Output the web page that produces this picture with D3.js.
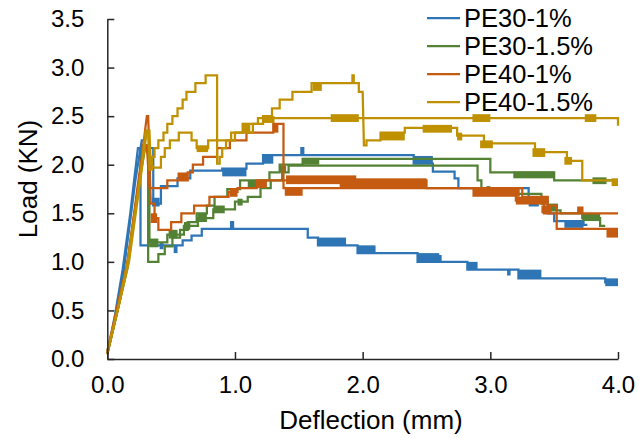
<!DOCTYPE html>
<html>
<head>
<meta charset="utf-8">
<script src="https://cdn.jsdelivr.net/npm/d3@7"></script>
<style>
  body { margin: 0; background: #fff; }
  text { font-family: "Liberation Sans", Arial, sans-serif; fill: #000; }
</style>
</head>
<body>
<svg id="chart" width="639" height="438"></svg>
<script>
// ---- data: load (kN) vs deflection (mm), two specimens per mix ----
const seriesNames  = ["PE30-1%", "PE30-1.5%", "PE40-1%", "PE40-1.5%"];
const seriesColors = ["#2E75B6", "#548235", "#C55A11", "#BF9000"];

const xTickValues = [0, 1, 2, 3, 4];
const yTickValues = [0, 0.5, 1.0, 1.5, 2.0, 2.5, 3.0, 3.5];

// PE30-1%
const pe30_1_a = [[0,0.05],[0.06,0.45],[0.12,0.92],[0.18,1.5],[0.21,1.84],[0.24,2.17],[0.26,2.17],[0.26,1.17],
  [0.59,1.17],[0.59,1.22],[0.66,1.22],[0.66,1.27],[0.74,1.27],[0.74,1.34],[0.97,1.34],[0.97,1.41],[0.985,1.41],[0.985,1.34],
  [1.57,1.34],[1.57,1.25],[1.65,1.25],[1.65,1.17],[1.96,1.17],[1.96,1.09],[2.08,1.09],[2.08,1.15],[2.09,1.15],[2.09,1.09],
  [2.43,1.09],[2.43,1.0],[2.6,1.0],[2.6,1.06],[2.61,1.06],[2.61,1.0],[2.82,1.0],[2.82,0.92],[3.14,0.92],[3.14,0.87],
  [3.15,0.87],[3.15,0.92],[3.22,0.92],[3.22,0.83],[3.9,0.83],[3.9,0.79],[4.0,0.79]];
const pe30_1_b = [[0,0.08],[0.07,0.45],[0.13,0.92],[0.22,1.84],[0.27,2.25],[0.29,2.25],[0.3,2.17],[0.36,2.17],[0.36,1.6],
  [0.42,1.6],[0.42,1.78],[0.55,1.78],[0.55,1.86],[0.65,1.86],[0.65,1.94],[0.9,1.94],[0.9,1.96],[1.09,1.96],[1.09,2.01],
  [1.22,2.01],[1.22,2.1],[1.52,2.1],[1.52,2.17],[1.535,2.17],[1.535,2.1],[2.4,2.1],[2.4,2.01],[2.55,2.01],[2.55,1.93],
  [2.72,1.93],[2.72,1.86],[2.75,1.86],[2.75,1.76],[3.3,1.76],[3.3,1.62],[3.45,1.62],[3.45,1.5],[3.5,1.5],[3.5,1.42],
  [3.73,1.42],[3.73,1.38],[3.76,1.38]];
const pe30_1_noise = [[0.41,0.44,1.13,1.2],[0.52,0.55,1.09,1.17],[1.65,1.87,1.17,1.25],[1.96,2.1,1.09,1.17],
  [2.43,2.6,1.0,1.09],[2.82,2.9,0.92,1.0],[3.22,3.4,0.83,0.92],[3.9,4.0,0.75,0.83],
  [0.35,0.41,1.57,1.66],[0.9,1.09,1.88,1.96],[1.22,1.3,2.01,2.09],[2.4,2.55,2.01,2.09],[3.3,3.38,1.57,1.65],[3.58,3.73,1.35,1.43]];

// PE30-1.5%
const pe30_15_a = [[0,0.05],[0.08,0.5],[0.15,0.92],[0.25,1.84],[0.28,2.2],[0.3,2.2],[0.32,2.1],[0.32,1.0],
  [0.4,1.0],[0.4,1.08],[0.45,1.08],[0.45,1.16],[0.51,1.16],[0.51,1.25],[0.57,1.25],[0.57,1.33],[0.63,1.33],[0.63,1.41],
  [0.7,1.41],[0.7,1.5],[0.78,1.5],[0.78,1.58],[0.84,1.58],[0.84,1.67],[0.94,1.67],[0.94,1.75],[1.04,1.75],[1.04,1.84],
  [1.27,1.84],[1.27,1.92],[1.35,1.92],[1.35,2.0],[1.53,2.0],[1.53,2.06],[3.0,2.06],[3.0,1.92],[3.5,1.92],[3.5,1.84],[4.0,1.84]];
const pe30_15_b = [[0,0.06],[0.09,0.55],[0.16,0.95],[0.26,1.9],[0.3,2.2],[0.31,2.2],[0.33,2.05],[0.33,1.2],
  [0.47,1.2],[0.47,1.28],[0.6,1.28],[0.6,1.37],[0.71,1.37],[0.71,1.45],[0.83,1.45],[0.83,1.54],[1.0,1.54],[1.0,1.62],
  [1.1,1.62],[1.1,1.67],[1.2,1.67],[1.2,1.76],[1.28,1.76],[1.28,1.84],[1.37,1.84],[1.37,1.92],[1.42,1.92],[1.42,1.99],
  [2.9,1.99],[2.9,1.84],[2.93,1.84],[2.93,1.76],[3.05,1.76],[3.05,1.7],[3.4,1.7],[3.4,1.6],[3.45,1.6],[3.45,1.53],
  [3.55,1.53],[3.55,1.5],[3.72,1.5],[3.72,1.45],[3.86,1.45],[3.86,1.37],[3.9,1.37]];
const pe30_15_noise = [[1.53,1.66,2.0,2.07],[3.18,3.5,1.86,1.93],[3.8,3.91,1.8,1.87],
  [0.33,0.4,1.15,1.24],[0.48,0.55,1.24,1.33],[0.6,0.65,1.33,1.41],[0.71,0.78,1.41,1.5],[0.83,0.92,1.5,1.58],
  [1.02,1.06,1.58,1.65],[1.1,1.17,1.76,1.84],[1.35,1.4,1.92,1.99],[2.97,3.0,1.72,1.78],[3.46,3.53,1.53,1.6],[3.72,3.86,1.42,1.5]];

// PE40-1%
const pe40_1_a = [[0,0.05],[0.08,0.5],[0.15,0.92],[0.25,1.84],[0.3,2.4],[0.31,2.5],[0.32,2.5],[0.33,2.1],[0.34,1.6],
  [0.37,1.6],[0.37,1.45],[0.4,1.45],[0.4,1.33],[0.5,1.33],[0.5,1.41],[0.58,1.41],[0.58,1.5],[0.68,1.5],[0.68,1.58],
  [0.8,1.58],[0.8,1.67],[0.95,1.67],[0.95,1.72],[1.02,1.72],[1.02,1.76],[1.17,1.76],[1.17,1.84],[2.5,1.84],[2.5,1.76],
  [2.88,1.76],[2.88,1.71],[3.2,1.71],[3.2,1.63],[3.42,1.63],[3.42,1.5],[4.0,1.5]];
const pe40_1_b = [[0,0.08],[0.08,0.55],[0.16,1.0],[0.25,1.9],[0.29,2.2],[0.31,2.2],[0.33,1.76],[0.47,1.76],[0.47,1.84],
  [0.63,1.84],[0.63,1.92],[0.67,1.92],[0.67,2.0],[0.75,2.0],[0.75,2.08],[0.86,2.08],[0.86,2.17],[0.96,2.17],[0.96,2.25],
  [1.09,2.25],[1.09,2.33],[1.3,2.33],[1.3,2.42],[1.38,2.42],[1.38,1.76],[3.25,1.76],[3.25,1.67],[3.45,1.67],[3.45,1.58],
  [3.52,1.58],[3.52,1.34],[4.0,1.34]];
const pe40_1_noise = [[0.34,0.39,1.4,1.5],[0.96,1.02,1.67,1.76],[1.17,1.25,1.76,1.84],[1.4,1.95,1.8,1.89],[1.82,2.5,1.76,1.86],
  [2.86,3.23,1.67,1.76],[3.2,3.45,1.59,1.67],[3.4,3.48,1.5,1.58],[3.68,3.73,1.5,1.57],
  [0.55,0.63,1.84,1.92],[1.3,1.34,2.33,2.42],[1.39,1.53,1.68,1.76],[3.91,4.0,1.25,1.34]];

// PE40-1.5%
const pe40_15_a = [[0,0.05],[0.08,0.5],[0.16,1.0],[0.26,1.9],[0.3,2.35],[0.32,2.35],[0.33,1.95],[0.35,1.95],[0.35,2.08],
  [0.37,2.08],[0.37,2.17],[0.4,2.17],[0.4,2.25],[0.44,2.25],[0.44,2.33],[0.47,2.33],[0.47,2.42],[0.51,2.42],[0.51,2.5],
  [0.55,2.5],[0.55,2.58],[0.59,2.58],[0.59,2.67],[0.62,2.67],[0.62,2.75],[0.69,2.75],[0.69,2.84],[0.77,2.84],[0.77,2.92],
  [0.86,2.92],[0.86,2.01],[0.88,2.01],[0.88,2.08],[0.9,2.08],[0.9,2.17],[0.93,2.17],[0.93,2.25],[1.0,2.25],[1.0,2.33],
  [1.14,2.33],[1.14,2.42],[1.22,2.42],[1.22,2.5],[1.29,2.5],[1.29,2.58],[1.35,2.58],[1.35,2.67],[1.45,2.67],[1.45,2.75],
  [1.6,2.75],[1.6,2.84],[1.92,2.84],[1.92,2.92],[1.93,2.92],[1.93,2.84],[1.97,2.84],[1.97,2.75],[2.0,2.75],[2.01,2.2],
  [2.03,2.2],[2.03,2.25],[2.14,2.25],[2.14,2.33],[2.33,2.33],[2.33,2.38],[2.74,2.38],[2.74,2.3],[2.95,2.3],[2.95,2.22],
  [3.35,2.22],[3.35,2.13],[3.6,2.13],[3.6,2.04],[3.72,2.04],[3.72,1.84],[4.0,1.84]];
const pe40_15_b = [[0,0.08],[0.09,0.55],[0.17,1.0],[0.27,1.95],[0.31,2.35],[0.33,2.35],[0.34,2.0],[0.37,1.97],[0.42,1.97],
  [0.42,2.08],[0.45,2.08],[0.45,2.17],[0.49,2.17],[0.49,2.25],[0.56,2.25],[0.56,2.33],[0.66,2.33],[0.66,2.25],[0.7,2.25],
  [0.7,2.17],[0.79,2.17],[0.79,2.25],[0.97,2.25],[0.97,2.33],[1.06,2.33],[1.06,2.42],[1.18,2.42],[1.18,2.48],[4.0,2.48],[4.0,2.4]];
const pe40_15_noise = [[1.06,1.12,2.33,2.43],[1.22,1.31,2.43,2.5],[1.61,1.68,2.76,2.84],[2.14,2.33,2.25,2.33],
  [2.47,2.7,2.33,2.41],[2.74,2.78,2.25,2.33],[2.92,3.02,2.17,2.25],[3.33,3.43,2.08,2.17],[3.58,3.64,2.0,2.08],
  [3.95,4.0,1.78,1.86],[0.7,0.79,2.13,2.2],[1.75,1.97,2.44,2.52],[2.86,3.0,2.44,2.52],[3.74,3.83,2.44,2.52]];

const specimens = [
  { s: 0, pts: pe30_1_a },  { s: 0, pts: pe30_1_b },
  { s: 1, pts: pe30_15_a }, { s: 1, pts: pe30_15_b },
  { s: 2, pts: pe40_1_a },  { s: 2, pts: pe40_1_b },
  { s: 3, pts: pe40_15_a }, { s: 3, pts: pe40_15_b }
];
const noiseBands = [pe30_1_noise, pe30_15_noise, pe40_1_noise, pe40_15_noise];

// ---- layout ----
const svg = d3.select("#chart");
const x = d3.scaleLinear().domain([0, 4]).range([107.3, 618]);
const y = d3.scaleLinear().domain([0, 3.5]).range([359, 19]);
const fmt = d3.format(".1f");
const axisColor = "#262626";
const tickFont = 24;
const titleFont = 26;
const legendFont = 25.5;

// curves, drawn series by series so later mixes sit on top
const line = d3.line().x(d => x(d[0])).y(d => y(d[1]));
const plot = svg.append("g");
seriesNames.forEach((name, si) => {
  const g = plot.append("g");
  specimens.filter(sp => sp.s === si).forEach(sp => {
    g.append("path").attr("d", line(sp.pts))
      .attr("fill", "none").attr("stroke", seriesColors[si])
      .attr("stroke-width", 2.25).attr("stroke-linejoin", "miter");
  });
  // rapid load fluctuations rendered as solid blocks
  g.selectAll("rect").data(noiseBands[si]).join("rect")
    .attr("x", d => x(d[0])).attr("width", d => x(d[1]) - x(d[0]))
    .attr("y", d => y(d[3])).attr("height", d => y(d[2]) - y(d[3]))
    .attr("fill", seriesColors[si]);
});

// axes
const yAxis = d3.axisLeft(y).tickValues(yTickValues).tickFormat(fmt)
  .tickSizeInner(-7).tickSizeOuter(0).tickPadding(23);
const xAxis = d3.axisBottom(x).tickValues(xTickValues).tickFormat(fmt)
  .tickSizeInner(-7).tickSizeOuter(0).tickPadding(17);

const gy = svg.append("g").attr("transform", `translate(${x(0)},0)`).call(yAxis);
const gx = svg.append("g").attr("transform", `translate(0,${y(0)})`).call(xAxis);
[gx, gy].forEach(g => {
  g.select(".domain").attr("stroke", axisColor).attr("stroke-width", 1.5);
  g.selectAll(".tick line").attr("stroke", axisColor).attr("stroke-width", 1.5);
  g.selectAll(".tick text").attr("font-size", tickFont)
    .attr("font-family", '"Liberation Sans", Arial, sans-serif').attr("fill", "#000");
});

// axis titles
svg.append("text").attr("x", 371).attr("y", 429).attr("text-anchor", "middle")
  .attr("font-size", titleFont).text("Deflection (mm)");
svg.append("text").attr("transform", `translate(37,179) rotate(-90)`)
  .attr("text-anchor", "middle").attr("font-size", titleFont).text("Load (KN)");

// legend
const legend = svg.append("g").attr("transform", "translate(427,18)");
seriesNames.forEach((name, i) => {
  const row = legend.append("g").attr("transform", `translate(0,${i * 28})`);
  row.append("line").attr("x1", 0).attr("x2", 33).attr("y1", 0).attr("y2", 0)
    .attr("stroke", seriesColors[i]).attr("stroke-width", 2.25);
  row.append("text").attr("x", 37).attr("y", 0).attr("dy", "0.35em")
    .attr("font-size", legendFont).text(name);
});
</script>
</body>
</html>
